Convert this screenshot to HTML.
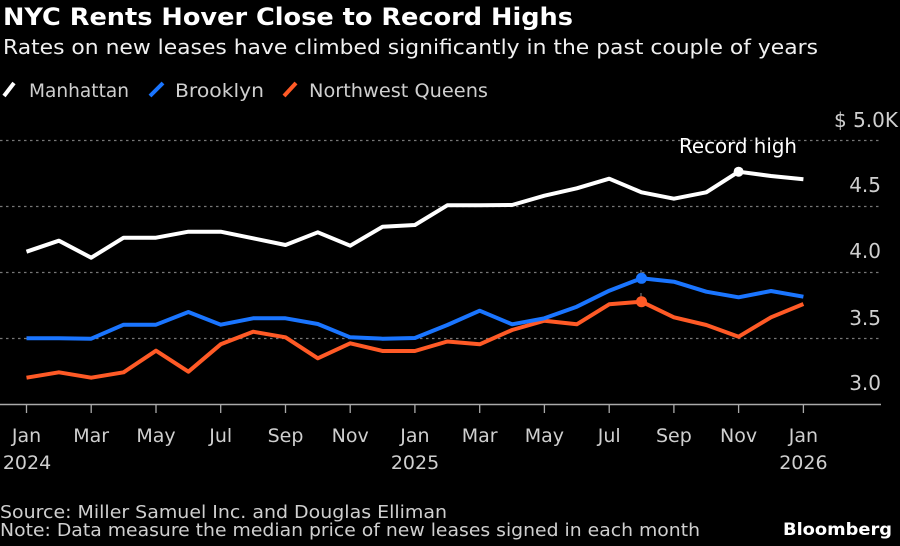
<!DOCTYPE html>
<html><head><meta charset="utf-8"><style>
html,body{margin:0;padding:0;background:#000;}
svg{display:block;}
text{font-family:"DejaVu Sans","Liberation Sans",sans-serif;}
</style></head><body>
<svg width="900" height="546" viewBox="0 0 900 546" xmlns="http://www.w3.org/2000/svg">
<rect width="900" height="546" fill="#000"/>
<text x="3" y="25" font-size="24" font-weight="bold" fill="#fff" textLength="570" lengthAdjust="spacingAndGlyphs">NYC Rents Hover Close to Record Highs</text>
<text x="3" y="54" font-size="20" fill="#f0f0f0" textLength="815" lengthAdjust="spacingAndGlyphs">Rates on new leases have climbed significantly in the past couple of years</text>
<!-- legend -->
<line x1="4" y1="96" x2="14" y2="83" stroke="#fff" stroke-width="4" stroke-linecap="butt"/>
<text x="29" y="97" font-size="19" fill="#cfcfcf" textLength="100" lengthAdjust="spacingAndGlyphs">Manhattan</text>
<line x1="150" y1="96" x2="163" y2="83" stroke="#1a75ff" stroke-width="4"/>
<text x="175" y="97" font-size="19" fill="#cfcfcf" textLength="89" lengthAdjust="spacingAndGlyphs">Brooklyn</text>
<line x1="284" y1="96" x2="296" y2="83" stroke="#ff5a26" stroke-width="4"/>
<text x="309" y="97" font-size="19" fill="#cfcfcf" textLength="179" lengthAdjust="spacingAndGlyphs">Northwest Queens</text>
<!-- gridlines -->
<g stroke="#777" stroke-width="1.3" stroke-dasharray="2.5,3.5">
<line x1="0" y1="140.5" x2="881" y2="140.5"/>
<line x1="0" y1="206.5" x2="881" y2="206.5"/>
<line x1="0" y1="272.5" x2="881" y2="272.5"/>
<line x1="0" y1="338.5" x2="881" y2="338.5"/>
</g>
<line x1="0" y1="404.5" x2="881" y2="404.5" stroke="#aaa" stroke-width="1.5"/>
<g stroke="#aaa" stroke-width="1.3">
<line x1="26.5" y1="404" x2="26.5" y2="413"/>
<line x1="91.2" y1="404" x2="91.2" y2="413"/>
<line x1="156" y1="404" x2="156" y2="413"/>
<line x1="220.7" y1="404" x2="220.7" y2="413"/>
<line x1="285.5" y1="404" x2="285.5" y2="413"/>
<line x1="350.2" y1="404" x2="350.2" y2="413"/>
<line x1="414.9" y1="404" x2="414.9" y2="413"/>
<line x1="479.7" y1="404" x2="479.7" y2="413"/>
<line x1="544.4" y1="404" x2="544.4" y2="413"/>
<line x1="609.2" y1="404" x2="609.2" y2="413"/>
<line x1="673.9" y1="404" x2="673.9" y2="413"/>
<line x1="738.6" y1="404" x2="738.6" y2="413"/>
<line x1="803.4" y1="404" x2="803.4" y2="413"/>
</g>
<!-- y labels -->
<g font-size="20" fill="#cfcfcf" text-anchor="end">
<text x="898" y="127">$ 5.0K</text>
<text x="881" y="192">4.5</text>
<text x="881" y="258">4.0</text>
<text x="881" y="325">3.5</text>
<text x="881" y="390">3.0</text>
</g>
<!-- x labels -->
<g font-size="19" fill="#cfcfcf" text-anchor="middle">
<text x="26.5" y="442">Jan</text>
<text x="91.2" y="442">Mar</text>
<text x="156" y="442">May</text>
<text x="220.7" y="442">Jul</text>
<text x="285.5" y="442">Sep</text>
<text x="350.2" y="442">Nov</text>
<text x="414.9" y="442">Jan</text>
<text x="479.7" y="442">Mar</text>
<text x="544.4" y="442">May</text>
<text x="609.2" y="442">Jul</text>
<text x="673.9" y="442">Sep</text>
<text x="738.6" y="442">Nov</text>
<text x="803.4" y="442">Jan</text>
<text x="27" y="469">2024</text>
<text x="415" y="469">2025</text>
<text x="803.4" y="469">2026</text>
</g>
<!-- series -->
<polyline fill="none" stroke="#ff5a26" stroke-width="4" stroke-linejoin="round" points="26.5,377.7 58.9,372.3 91.2,377.7 123.6,372.3 156,350.7 188.4,371.7 220.7,344.3 253.1,331.7 285.5,337.3 317.8,358.3 350.2,343.3 382.6,351 414.9,351 447.3,341.5 479.7,344.3 512.1,330 544.4,320.7 576.8,324.3 609.2,304.3 641.5,301.7 673.9,317.3 706.3,325 738.6,336.7 771,317.3 803.4,304"/>
<polyline fill="none" stroke="#1a75ff" stroke-width="4" stroke-linejoin="round" points="26.5,338.3 58.9,338.3 91.2,338.7 123.6,324.7 156,324.7 188.4,312 220.7,324.7 253.1,318.3 285.5,318.3 317.8,324 350.2,337.3 382.6,338.7 414.9,338 447.3,325 479.7,310.7 512.1,324.3 544.4,318.3 576.8,306.7 609.2,290.7 641.5,278.3 673.9,281.7 706.3,291.7 738.6,297.3 771,291 803.4,296.7"/>
<polyline fill="none" stroke="#ffffff" stroke-width="4" stroke-linejoin="round" points="26.5,251.7 58.9,240.7 91.2,257.7 123.6,237.7 156,237.7 188.4,231.7 220.7,231.7 253.1,238.3 285.5,245 317.8,232.3 350.2,245.7 382.6,226.7 414.9,225 447.3,205.3 479.7,205.3 512.1,205 544.4,195.7 576.8,188.3 609.2,178.7 641.5,192.3 673.9,198.7 706.3,192.3 738.6,171.7 771,176 803.4,179.3"/>
<!-- markers -->
<line x1="641" y1="270" x2="641" y2="278" stroke="#888" stroke-width="1"/>
<line x1="641" y1="293" x2="641" y2="301" stroke="#888" stroke-width="1"/>
<circle cx="738.6" cy="171.7" r="5" fill="#fff"/>
<circle cx="641.5" cy="278.3" r="5.5" fill="#1a75ff"/>
<circle cx="641.5" cy="301.7" r="5.5" fill="#ff5a26"/>
<text x="738" y="153" font-size="20" fill="#fff" text-anchor="middle" textLength="118" lengthAdjust="spacingAndGlyphs">Record high</text>
<!-- footer -->
<text x="0" y="518" font-size="18" fill="#cfcfcf" textLength="447" lengthAdjust="spacingAndGlyphs">Source: Miller Samuel Inc. and Douglas Elliman</text>
<text x="0" y="536" font-size="18" fill="#cfcfcf" textLength="700" lengthAdjust="spacingAndGlyphs">Note: Data measure the median price of new leases signed in each month</text>
<text x="892" y="535" font-size="17" font-weight="bold" fill="#fff" text-anchor="end" textLength="109" lengthAdjust="spacingAndGlyphs">Bloomberg</text>
</svg>
</body></html>
